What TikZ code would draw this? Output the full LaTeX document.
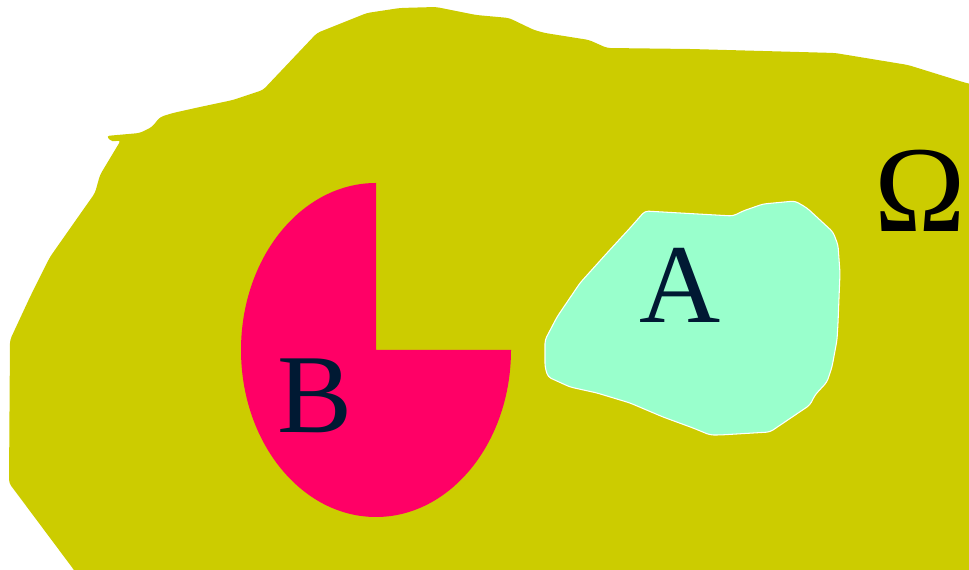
\documentclass[tikz,border=0pt]{standalone}
\usepackage{fontspec}
\setmainfont{Liberation Serif}
\usepackage{tikz}
\usetikzlibrary{
    positioning,
    calc
}
\definecolor{omOlive}{RGB}{204,204,0}
\definecolor{bPink}{RGB}{255,0,102}
\definecolor{aMint}{RGB}{153,255,204}
\definecolor{lblNavy}{RGB}{0,25,51}
\tikzset{
  region/.style  = {line join=round, rounded corners=2pt},
  setlbl/.style  = {inner sep=0pt, text=lblNavy,
                    font=\fontsize{64}{64}\selectfont}
}

\begin{document}
\begin{tikzpicture}[x=0.02cm, y=0.02cm]
    \useasboundingbox (0,0) rectangle (969,570);
    \clip (0,0) rectangle (969,570);

    % the big set Omega
    \fill[omOlive, region]
      (106,434) -- (112,428) -- (121,430) -- (100,395) -- (95,377)
      -- (83,360) -- (50,313) -- (30,273) -- (10,230) -- (9,87)
      -- (74,0) -- (80,-10) -- (1000,-10) -- (1000,480) -- (966,487)
      -- (908,505) -- (835,517) -- (690,521) -- (607,522) -- (589,530)
      -- (545,537) -- (534,540) -- (509,552) -- (476,555) -- (436,563)
      -- (400,562) -- (367,557) -- (317,537) -- (263,480) -- (233,470)
      -- (200,463) -- (173,457) -- (160,453) -- (152,443) -- (140,437)
      -- cycle;

    % set B: ellipse without its upper right quarter
    \fill[bPink]
      (376,220) -- (376,387)
      arc[start angle=90, end angle=360, x radius=135, y radius=167]
      -- cycle;

    % set A
    \filldraw[aMint, draw=white, line width=0.6pt, region]
      (645,359) -- (733,354) -- (743,359) -- (763,366) -- (795,369)
      -- (807,362) -- (833,338) -- (838,325) -- (840,297) -- (838,247)
      -- (837,230) -- (832,203) -- (827,188) -- (815,175) -- (810,165)
      -- (770,138) -- (720,135) -- (710,135) -- (693,142) -- (663,153)
      -- (630,167) -- (597,177) -- (570,183) -- (548,193) -- (545,203)
      -- (545,230) -- (557,253) -- (580,287) -- (607,317) -- (630,342)
      -- cycle;

    \node[setlbl] (labelA) at (680,285) {A};
    \node[setlbl] (labelB) at (315,174) {B};
    \node[setlbl, text=black, font=\fontsize{70}{70}\selectfont]
      (omega) at (920,379) {Ω};
  \end{tikzpicture}
\end{document}
